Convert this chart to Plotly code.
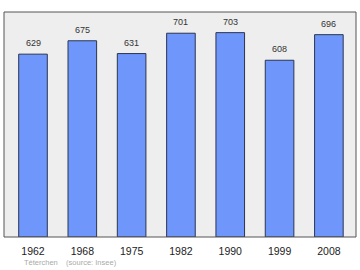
import plotly.graph_objects as go

years = ["1962", "1968", "1975", "1982", "1990", "1999", "2008"]
population = [629, 675, 631, 701, 703, 608, 696]
label_text = [str(v) for v in population]
footer = "Téterchen    (source: Insee)"

x_idx = list(range(len(years)))

fig = go.Figure()
fig.add_trace(go.Bar(
    x=x_idx, y=population,
    width=0.58,
    marker=dict(color="#6f96fb", line=dict(color="#2a3550", width=1)),
    cliponaxis=False,
))

annotations = [dict(x=x, y=v, text=t, xref="x", yref="y", showarrow=False,
                    yanchor="middle", yshift=11,
                    font=dict(family="Liberation Sans, Arial", size=9, color="#333333"))
               for x, v, t in zip(x_idx, population, label_text)]
annotations.append(dict(text=footer, xref="paper", yref="paper", x=0.05, y=-0.115,
                        xanchor="left", yanchor="middle", showarrow=False,
                        font=dict(family="Liberation Sans, Arial", size=7.5, color="#aaaaaa")))

fig.update_layout(
    width=360, height=270,
    margin=dict(l=4, r=4, t=12, b=33),
    paper_bgcolor="white", plot_bgcolor="#eeeeee",
    showlegend=False,
    xaxis=dict(range=[-0.588, 6.55], tickmode="array", tickvals=x_idx, ticktext=years,
               showgrid=False, zeroline=False, ticks="", showline=False,
               ticklabelstandoff=6,
               tickfont=dict(family="Liberation Sans, Arial", size=10.5, color="#222222")),
    yaxis=dict(range=[0, 774], showgrid=False, zeroline=False, showticklabels=False,
               showline=False, ticks=""),
    shapes=[dict(type="rect", xref="paper", yref="paper", x0=0, y0=0, x1=1, y1=1,
                 line=dict(color="#555555", width=1))],
    annotations=annotations,
)

fig.write_html("out.html")
